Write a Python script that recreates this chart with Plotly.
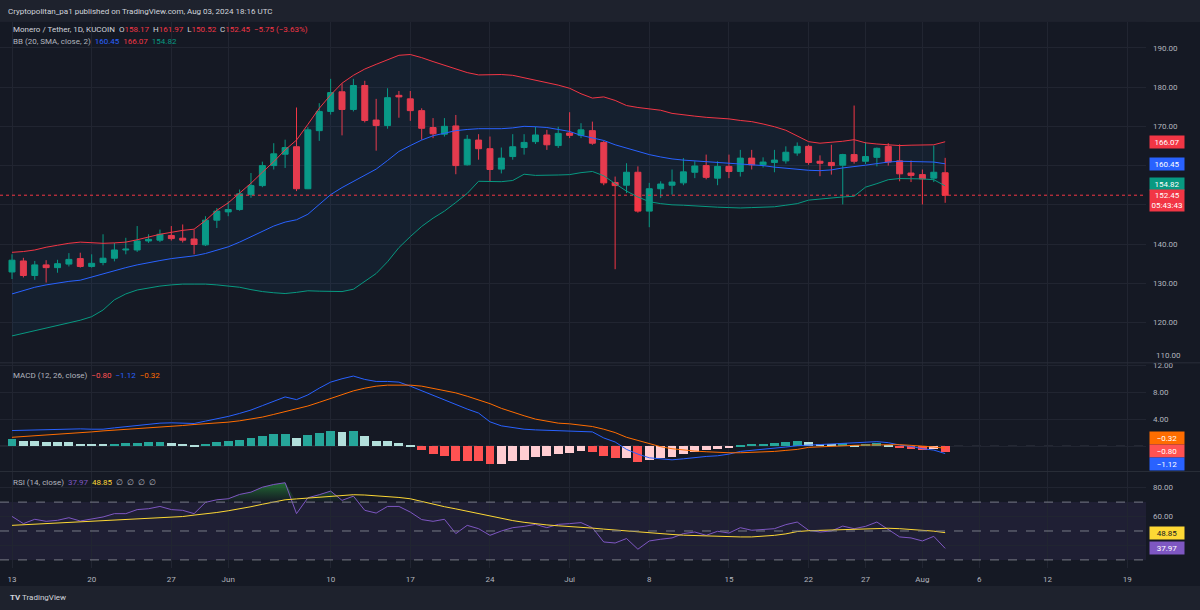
import pandas as pd
import plotly.graph_objects as go

W, H = 1200, 610

# daily candles, XMR/USDT 1D (KuCoin)
dates = pd.date_range("2024-05-13", "2024-08-03", freq="D")

opens = [132.9, 135.7, 132.0, 134.7, 134.0, 134.9, 136.3, 134.3, 135.3, 136.4,
         138.5, 138.5, 140.8, 141.0, 142.2, 141.5, 141.3, 139.8, 146.1, 148.2,
         148.8, 152.6, 154.9, 160.0, 162.9, 164.8, 154.1, 168.9, 173.8, 178.8,
         174.3, 180.4, 171.6, 170.2, 177.9, 177.0, 174.0, 169.7, 168.0, 170.1,
         160.2, 166.5, 164.3, 159.1, 162.3, 164.6, 166.1, 167.8, 165.1, 168.3,
         167.7, 168.9, 165.9, 155.7, 155.0, 158.3, 148.4, 154.1, 155.0, 155.6,
         158.3, 160.0, 156.8, 159.8, 158.5, 161.9, 160.2, 160.8, 161.2, 163.2,
         164.9, 161.1, 160.8, 160.1, 162.8, 161.1, 162.1, 164.9, 161.2, 158.1,
         157.7, 156.8, 158.17]
highs = [137.4, 136.5, 135.7, 135.9, 136.0, 137.7, 137.8, 137.4, 142.5, 140.3,
         141.6, 144.6, 142.5, 143.7, 144.6, 145.0, 143.7, 147.1, 149.2, 150.9,
         153.9, 158.1, 161.0, 165.7, 166.6, 174.8, 169.8, 175.9, 182.1, 180.9,
         182.1, 181.6, 177.0, 179.7, 179.0, 179.0, 174.6, 172.1, 172.1, 172.9,
         167.8, 168.0, 167.4, 164.6, 168.0, 168.0, 169.9, 169.1, 169.9, 173.6,
         170.8, 171.2, 166.3, 157.2, 160.6, 159.8, 155.6, 156.0, 159.0, 161.9,
         161.1, 162.8, 161.1, 162.8, 164.0, 164.0, 162.1, 164.0, 164.9, 165.9,
         165.3, 162.6, 165.3, 163.0, 175.3, 166.0, 164.6, 165.7, 165.4, 161.3,
         159.0, 165.1, 161.97]
lows = [131.1, 131.5, 130.9, 130.2, 132.7, 134.3, 134.0, 134.0, 134.6, 135.6,
        137.4, 138.0, 140.3, 140.5, 140.9, 140.4, 137.4, 139.5, 144.1, 147.1,
        148.5, 151.8, 154.5, 159.0, 159.4, 153.5, 154.0, 166.3, 173.0, 167.7,
        173.8, 171.0, 163.8, 169.4, 172.2, 171.4, 166.6, 167.0, 167.4, 157.8,
        160.0, 161.5, 156.0, 158.0, 161.5, 162.8, 165.5, 164.0, 164.5, 167.0,
        167.0, 165.3, 155.0, 133.6, 153.0, 148.0, 144.3, 151.8, 152.6, 155.0,
        156.8, 156.5, 155.0, 156.8, 157.2, 159.0, 159.5, 158.3, 160.5, 162.5,
        160.2, 157.3, 157.7, 150.1, 160.5, 160.4, 159.8, 160.0, 156.0, 155.8,
        150.1, 155.8, 150.52]
closes = [135.9, 132.0, 134.7, 134.0, 135.0, 136.1, 134.3, 135.1, 136.4, 138.5,
          138.7, 140.8, 141.2, 142.5, 141.4, 141.0, 139.9, 146.1, 148.4, 148.8,
          152.8, 154.9, 160.0, 163.0, 164.6, 154.1, 169.1, 173.8, 178.6, 174.3,
          180.4, 171.5, 170.2, 177.3, 177.5, 174.0, 169.5, 168.1, 170.0, 160.0,
          166.7, 164.3, 159.0, 161.9, 164.8, 165.9, 167.8, 165.3, 168.2, 167.7,
          169.1, 165.7, 155.6, 154.9, 158.3, 148.4, 154.1, 155.3, 155.8, 158.4,
          159.9, 157.0, 159.8, 158.5, 161.9, 160.2, 160.9, 161.4, 163.4, 164.9,
          160.8, 160.6, 160.0, 162.8, 161.1, 162.3, 164.4, 160.9, 157.9, 157.5,
          156.6, 158.3, 152.45]

# Bollinger Bands (20, SMA, 2)
bb_upper = [137.9, 138.1, 138.5, 139.2, 139.7, 140.2, 140.5, 140.3, 140.2, 140.3,
            140.5, 141.1, 141.8, 142.5, 143.0, 143.5, 143.8, 146.0, 148.6, 150.5,
            153.0, 155.5, 158.3, 161.0, 164.0, 166.5, 170.5, 174.6, 178.0, 181.0,
            183.0, 184.6, 185.8, 187.0, 188.1, 188.3, 187.5, 186.5, 185.6, 184.6,
            183.7, 183.1, 183.1, 183.2, 183.0, 182.4, 181.8, 181.2, 180.5, 179.7,
            178.3, 177.2, 177.5, 176.6, 175.3, 174.8, 174.5, 174.1, 173.3, 172.9,
            172.6, 172.3, 172.1, 171.9, 171.5, 171.2, 170.6, 169.9, 169.0, 167.6,
            166.1, 165.7, 165.9, 166.2, 166.6, 165.8, 165.5, 165.3, 165.1, 165.2,
            165.3, 165.3, 166.07]
bb_basis = [127.3, 128.2, 129.0, 129.6, 130.1, 130.5, 130.8, 131.6, 132.5, 133.3,
            134.0, 134.7, 135.3, 135.8, 136.3, 136.6, 137.0, 137.6, 138.4, 139.3,
            140.5, 141.9, 143.3, 144.6, 145.6, 146.2, 147.6, 150.1, 152.6, 154.4,
            156.0, 157.7, 159.1, 161.3, 163.6, 165.1, 166.5, 167.6, 168.3, 168.9,
            169.2, 169.4, 169.4, 169.4, 169.6, 170.0, 169.9, 169.7, 169.2, 168.7,
            167.7, 167.0, 166.4, 165.3, 164.4, 163.6, 162.8, 162.2, 161.7, 161.4,
            161.2, 161.1, 160.9, 160.7, 160.5, 160.3, 160.0, 159.6, 159.3, 159.0,
            158.8, 158.7, 158.9, 159.4, 159.7, 160.1, 160.5, 160.9, 161.1, 161.0,
            160.9, 160.9, 160.45]
bb_lower = [116.6, 117.3, 118.0, 118.6, 119.2, 119.9, 120.6, 121.5, 123.2, 125.8,
            127.3, 128.3, 128.8, 129.3, 129.6, 129.8, 129.8, 129.8, 129.6, 129.3,
            129.0, 128.4, 127.9, 127.6, 127.4, 127.7, 128.1, 128.0, 128.0, 127.9,
            128.5, 130.5, 132.5, 135.5, 139.1, 141.9, 144.5, 146.6, 148.4, 150.6,
            152.9, 156.0, 156.0, 155.9, 156.2, 157.8, 157.5, 157.5, 157.6, 157.7,
            158.2, 158.5, 157.4, 155.4, 153.5, 152.0, 150.8, 150.3, 150.0, 149.9,
            149.7, 149.5, 149.4, 149.3, 149.2, 149.3, 149.4, 149.5, 149.9, 150.3,
            151.2, 151.5, 151.8, 152.0, 152.2, 154.5, 155.4, 156.4, 156.7, 156.7,
            156.6, 156.4, 154.82]

# MACD (12, 26, close)
macd_line = [2.30, 2.35, 2.40, 2.45, 2.50, 2.60, 2.55, 2.50, 2.50, 2.70,
             2.90, 3.10, 3.25, 3.40, 3.45, 3.45, 3.35, 3.70, 4.00, 4.40,
             4.85, 5.35, 6.00, 6.70, 7.30, 6.90, 7.60, 8.60, 9.50, 10.00,
             10.40, 9.90, 9.60, 9.60, 9.50, 8.90, 8.20, 7.50, 6.90, 6.20,
             5.50, 4.90, 3.60, 3.00, 2.70, 2.50, 2.40, 2.35, 2.30, 2.30,
             2.25, 2.10, 1.20, 0.60, -0.50, -1.20, -1.75, -1.95, -2.05, -1.90,
             -1.70, -1.55, -1.45, -1.20, -0.80, -0.65, -0.55, -0.40, -0.15, 0.05,
             0.15, 0.22, 0.30, 0.38, 0.45, 0.60, 0.65, 0.50, 0.15, -0.05,
             -0.40, -0.60, -1.12]
macd_signal = [1.30, 1.40, 1.50, 1.60, 1.70, 1.85, 1.95, 2.10, 2.25, 2.35,
               2.45, 2.60, 2.70, 2.80, 2.95, 3.05, 3.20, 3.30, 3.40, 3.55,
               3.75, 4.00, 4.30, 4.70, 5.10, 5.50, 5.95, 6.50, 7.10, 7.70,
               8.20, 8.60, 8.90, 9.05, 9.10, 9.05, 8.90, 8.60, 8.30, 7.90,
               7.40, 6.90, 6.30, 5.60, 5.00, 4.50, 4.00, 3.70, 3.40, 3.30,
               3.10, 2.90, 2.50, 2.00, 1.30, 0.80, 0.30, -0.10, -0.40, -0.60,
               -0.75, -0.85, -0.95, -1.00, -1.00, -0.95, -0.90, -0.80, -0.65, -0.50,
               -0.20, -0.10, -0.05, 0.05, 0.10, 0.15, 0.20, 0.20, 0.20, 0.10,
               0.00, -0.15, -0.32]
macd_hist = [1.14, 0.84, 0.84, 0.69, 0.64, 0.64, 0.40, 0.30, 0.30, 0.40,
             0.42, 0.54, 0.56, 0.64, 0.54, 0.40, 0.20, 0.40, 0.64, 0.74,
             0.99, 1.23, 1.48, 1.83, 1.88, 1.19, 1.63, 2.02, 2.32, 2.12,
             2.22, 1.53, 0.84, 0.74, 0.54, 0.10, -0.60, -1.14, -1.38, -2.15,
             -2.20, -2.25, -2.60, -2.60, -2.20, -2.00, -1.60, -1.40, -1.10, -1.00,
             -0.74, -0.84, -1.40, -1.80, -1.70, -2.30, -2.10, -1.80, -1.60, -1.10,
             -0.84, -0.60, -0.40, -0.15, 0.25, 0.35, 0.40, 0.44, 0.64, 0.84,
             0.64, 0.40, 0.30, 0.44, 0.25, 0.35, 0.50, 0.25, -0.15, -0.35,
             -0.50, -0.35, -0.80]

# RSI (14, close) and its moving average
rsi = [60.1, 55.1, 58.1, 56.7, 57.4, 59.2, 56.9, 58.1, 59.7, 62.0,
       62.0, 64.8, 65.4, 67.0, 64.8, 64.3, 62.0, 69.8, 71.6, 72.3,
       75.3, 76.9, 80.3, 82.2, 83.4, 62.0, 73.0, 75.1, 77.6, 71.2,
       74.1, 64.3, 62.4, 67.0, 67.0, 63.1, 57.9, 56.7, 58.1, 48.2,
       53.9, 51.6, 47.0, 50.0, 52.3, 53.2, 54.6, 52.3, 54.6, 55.1,
       55.8, 52.3, 42.4, 41.7, 44.8, 37.4, 43.1, 44.3, 45.2, 48.2,
       49.3, 47.0, 49.8, 48.6, 52.3, 50.5, 51.1, 51.6, 54.4, 56.2,
       50.5, 49.3, 50.0, 53.4, 51.6, 53.2, 56.2, 51.0, 45.9, 45.2,
       43.1, 46.3, 37.97]
rsi_ma = [53.9, 54.3, 54.7, 55.1, 55.5, 55.9, 56.2, 56.6, 57.0, 57.3,
          57.7, 58.1, 58.5, 59.0, 59.5, 60.0, 61.0, 61.8, 62.8, 64.0,
          65.3, 66.8, 68.5, 70.0, 71.6, 72.2, 72.8, 73.4, 74.0, 74.6,
          75.1, 74.9, 74.5, 73.9, 73.2, 72.3, 70.5, 68.3, 66.8, 65.3,
          63.6, 62.0, 60.2, 58.6, 57.2, 56.0, 54.9, 54.2, 53.6, 53.2,
          52.6, 52.0, 51.3, 50.6, 49.9, 49.3, 48.7, 48.1, 47.6, 47.1,
          46.8, 46.5, 46.3, 46.1, 45.9, 45.9, 46.3, 47.0, 48.0, 49.6,
          50.2, 50.5, 50.8, 51.0, 51.3, 51.7, 52.1, 51.9, 51.6, 51.2,
          50.6, 49.9, 48.85]

tick_dates = ["2024-05-13", "2024-05-20", "2024-05-27", "2024-06-01", "2024-06-10",
              "2024-06-17", "2024-06-24", "2024-07-01", "2024-07-08", "2024-07-15",
              "2024-07-22", "2024-07-27", "2024-08-01", "2024-08-06", "2024-08-12",
              "2024-08-19"]
tick_text = ["13", "20", "27", "Jun", "10", "17", "24", "Jul", "8", "15",
             "22", "27", "Aug", "6", "12", "19"]
price_ticks = [110, 120, 130, 140, 150, 160, 170, 180, 190]
macd_ticks = [0, 4, 8, 12]
rsi_ticks = [40, 60, 80]
# axis labels that sit under the last-value tags (or at the pane edge) in the screenshot
price_hidden = [110, 150, 160]
macd_hidden = [0]
rsi_hidden = [40]

# colours
BG = "#151924"
FRAME = "#1e222d"
GRID = "#212531"
TXT = "#b2b5be"
UP, DOWN = "#089981", "#f23645"
BLUE, ORANGE = "#2962ff", "#ff6d00"
PURPLE, YELLOW = "#7e57c2", "#fdd835"
FONT = "Roboto, Noto Sans, sans-serif"
FS = 8


def py(px):
    return 1 - px / H


def labels(ticks, hidden):
    return ["" if t in hidden else f"{t:.2f}" for t in ticks]


X_END = 1146 / W
px_per_day = 11.38
x0 = dates[0] - pd.Timedelta(days=12 / px_per_day)
x1 = dates[0] + pd.Timedelta(days=(1146 - 12) / px_per_day)

fig = go.Figure()

# Bollinger bands
fig.add_trace(go.Scatter(x=dates, y=bb_upper, mode="lines", line=dict(color=DOWN, width=1),
                         xaxis="x", yaxis="y"))
fig.add_trace(go.Scatter(x=dates, y=bb_lower, mode="lines", line=dict(color=UP, width=1),
                         fill="tonexty", fillcolor="rgba(33,150,243,0.06)", xaxis="x", yaxis="y"))
fig.add_trace(go.Scatter(x=dates, y=bb_basis, mode="lines", line=dict(color=BLUE, width=1),
                         xaxis="x", yaxis="y"))

fig.add_trace(go.Candlestick(
    x=dates, open=opens, high=highs, low=lows, close=closes,
    increasing=dict(line=dict(color=UP, width=1), fillcolor=UP),
    decreasing=dict(line=dict(color=DOWN, width=1), fillcolor=DOWN),
    xaxis="x", yaxis="y"))

# MACD histogram colours follow TradingView's rising/falling scheme
hist_colors = []
for i, v in enumerate(macd_hist):
    prev = macd_hist[i - 1] if i else v
    if v >= 0:
        hist_colors.append("#26a69a" if v > prev or i == 0 else "#b2dfdb")
    else:
        hist_colors.append("#ff5252" if v < prev else "#ffcdd2")

fig.add_trace(go.Bar(x=dates, y=macd_hist, marker=dict(color=hist_colors, line=dict(width=0)),
                     width=0.78 * 86400000, xaxis="x2", yaxis="y2"))
fig.add_trace(go.Scatter(x=dates, y=macd_line, mode="lines", line=dict(color=BLUE, width=1),
                         xaxis="x2", yaxis="y2"))
fig.add_trace(go.Scatter(x=dates, y=macd_signal, mode="lines", line=dict(color=ORANGE, width=1),
                         xaxis="x2", yaxis="y2"))

# RSI overbought gradient fill
fig.add_trace(go.Scatter(x=dates, y=[70] * len(rsi), mode="lines", line=dict(width=0),
                         xaxis="x3", yaxis="y3"))
fig.add_trace(go.Scatter(x=dates, y=[max(v, 70) for v in rsi], mode="lines", line=dict(width=0),
                         fill="tonexty",
                         fillgradient=dict(type="vertical", start=70, stop=86,
                                           colorscale=[[0, "rgba(40,140,60,0)"],
                                                       [1, "rgba(40,160,60,0.75)"]]),
                         xaxis="x3", yaxis="y3"))
fig.add_trace(go.Scatter(x=dates, y=rsi, mode="lines", line=dict(color=PURPLE, width=1),
                         xaxis="x3", yaxis="y3"))
fig.add_trace(go.Scatter(x=dates, y=rsi_ma, mode="lines", line=dict(color=YELLOW, width=1),
                         xaxis="x3", yaxis="y3"))

xcommon = dict(range=[x0, x1], tickvals=tick_dates, ticktext=tick_text, showgrid=True,
               gridcolor=GRID, gridwidth=1, zeroline=False, showline=False, ticks="",
               fixedrange=True)
ycommon = dict(side="right", showgrid=True, gridcolor=GRID, zeroline=False, showline=False,
               ticks="", ticklabelstandoff=6, fixedrange=True,
               tickfont=dict(color=TXT, size=FS, family=FONT))

fig.update_layout(
    width=W, height=H, margin=dict(l=0, r=0, t=0, b=0),
    paper_bgcolor=FRAME, plot_bgcolor=BG, showlegend=False, hovermode=False,
    font=dict(family=FONT, color=TXT, size=FS),
    bargap=0, boxgap=0.25,
    xaxis=dict(xcommon, domain=[0, X_END], anchor="y", showticklabels=False,
               rangeslider=dict(visible=False)),
    xaxis2=dict(xcommon, domain=[0, X_END], anchor="y2", matches="x", showticklabels=False),
    xaxis3=dict(xcommon, domain=[0, X_END], anchor="y3", matches="x", showticklabels=True,
                ticklabelstandoff=5, tickfont=dict(color=TXT, size=FS, family=FONT)),
    yaxis=dict(ycommon, domain=[py(362), py(20)], anchor="x", range=[109.75, 196.6],
               tickvals=price_ticks, ticktext=labels(price_ticks, price_hidden)),
    yaxis2=dict(ycommon, domain=[py(471), py(362)], anchor="x2", range=[-3.78, 12.37],
                tickvals=macd_ticks, ticktext=labels(macd_ticks, macd_hidden)),
    yaxis3=dict(ycommon, domain=[py(568), py(471)], anchor="x3", range=[24.3, 91.2],
                tickvals=rsi_ticks, ticktext=labels(rsi_ticks, rsi_hidden)),
)

shapes = [
    # chart area backdrop (incl. price axis and time axis)
    dict(type="rect", xref="paper", yref="paper", x0=0, x1=1, y0=py(586), y1=py(20),
         fillcolor=BG, line=dict(width=0), layer="below"),
    # pane separators
    dict(type="line", xref="paper", yref="paper", x0=0, x1=1, y0=py(362), y1=py(362),
         line=dict(color="#2a2e39", width=1)),
    dict(type="line", xref="paper", yref="paper", x0=0, x1=1, y0=py(471), y1=py(471),
         line=dict(color="#2a2e39", width=1)),
    # last price line
    dict(type="line", xref="paper", yref="y", x0=0, x1=X_END, y0=closes[-1], y1=closes[-1],
         line=dict(color=DOWN, width=1, dash="dot")),
    # MACD zero line
    dict(type="line", xref="paper", yref="y2", x0=0, x1=X_END, y0=0, y1=0,
         line=dict(color="#363a45", width=1, dash="dash"), layer="below"),
    # RSI band
    dict(type="rect", xref="paper", yref="y3", x0=0, x1=X_END, y0=30, y1=70,
         fillcolor="rgba(126,87,194,0.10)", line=dict(width=0), layer="below"),
]
for lvl in (70, 50, 30):
    shapes.append(dict(type="line", xref="paper", yref="y3", x0=0, x1=X_END, y0=lvl, y1=lvl,
                       line=dict(color="#787b86", width=1, dash="dash")))
fig.update_layout(shapes=shapes)


def span(txt, color):
    return f"<span style='color:{color}'>{txt}</span>"


def note(x_px, y_px, text, size=FS, color=TXT):
    return dict(xref="paper", yref="paper", x=x_px / W, y=py(y_px), text=text,
                showarrow=False, xanchor="left", yanchor="middle",
                font=dict(size=size, color=color, family=FONT))


def tag(y, yref, text, bg, fg="#ffffff", yshift=0, h=10):
    return dict(xref="paper", yref=yref, x=1149 / W, y=y, text=text, showarrow=False,
                xanchor="left", yanchor="middle", bgcolor=bg, borderpad=1, yshift=yshift,
                width=32, height=h, font=dict(size=FS, color=fg, family=FONT), align="center")


legend1 = ("Monero / Tether, 1D, KUCOIN  O" + span("158.17", DOWN) + "  H" + span("161.97", DOWN)
           + "  L" + span("150.52", DOWN) + "  C" + span("152.45", DOWN) + "  "
           + span("\u22125.75 (\u22123.63%)", DOWN))
legend2 = ("BB (20, SMA, close, 2)  " + span("160.45", BLUE) + "  " + span("166.07", DOWN)
           + "  " + span("154.82", UP))
legend3 = ("MACD (12, 26, close)  " + span("\u22120.80", "#ff5252") + "  "
           + span("\u22121.12", BLUE) + "  " + span("\u22120.32", ORANGE))
legend4 = ("RSI (14, close)  " + span("37.97", PURPLE) + "  " + span("48.85", YELLOW)
           + "  \u2205  \u2205  \u2205  \u2205")

annotations = [
    note(6, 10, "Cryptopolitan_pa1 published on TradingView.com, Aug 03, 2024 18:16 UTC",
         color="#d1d4dc"),
    note(11, 28, legend1, color="#d1d4dc"),
    note(11, 40, legend2),
    note(11, 375, legend3),
    note(11, 482, legend4),
    note(8, 597, "<b>TV</b> TradingView", color="#d1d4dc"),
    # lowest price label, nudged up clear of the MACD scale
    note(1154, 355, "110.00"),
    tag(bb_upper[-1], "y", "166.07", DOWN),
    tag(bb_basis[-1], "y", "160.45", BLUE),
    tag(bb_lower[-1], "y", "154.82", UP, yshift=2),
    tag(closes[-1], "y", "152.45<br>05:43:43", DOWN, yshift=-5, h=19),
    tag(macd_signal[-1], "y2", "\u22120.32", ORANGE, yshift=10),
    tag(macd_hist[-1], "y2", "\u22120.80", "#ff5252", yshift=0),
    tag(macd_line[-1], "y2", "\u22121.12", BLUE, yshift=-10),
    tag(rsi_ma[-1], "y3", "48.85", YELLOW, fg="#131722"),
    tag(rsi[-1], "y3", "37.97", PURPLE),
]
fig.update_layout(annotations=annotations)

# drop the browser's default page margin so the figure sits at the window origin
fig.write_html("out.html", config={"displayModeBar": False},
               post_script="document.body.style.margin='0';"
                           "document.body.style.background='#1e222d';")
